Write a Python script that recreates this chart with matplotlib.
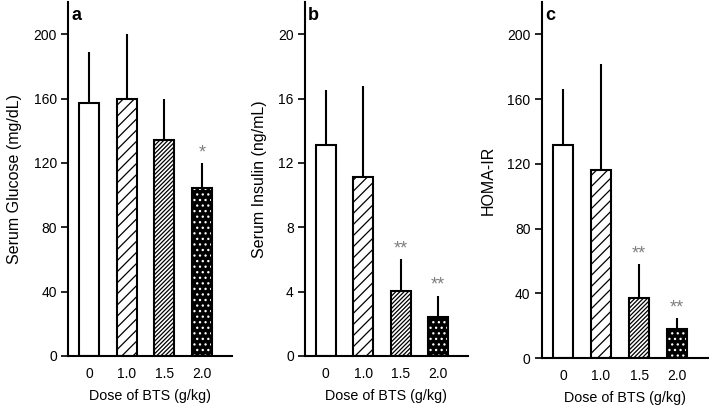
import numpy as np
import matplotlib
matplotlib.use('Agg')
import matplotlib.pyplot as plt

plt.rcParams['font.family'] = ['Liberation Sans', 'DejaVu Sans']
plt.rcParams['hatch.linewidth'] = 0.9

doses = ['0', '1.0', '1.5', '2.0']

glucose = [157, 160, 134, 104.5]
glucose_sd = [32, 40, 26, 15.5]
glucose_sig = ['', '', '', '*']

insulin = [13.1, 11.1, 4.07, 2.4]
insulin_sd = [3.45, 5.7, 1.95, 1.35]
insulin_sig = ['', '', '**', '**']

homa = [131.5, 116.5, 37, 18]
homa_sd = [35, 65, 21, 6.5]
homa_sig = ['', '', '**', '**']

hatches = ['', '///', '////////', '...']

fig = plt.figure(figsize=(7.09, 4.05), dpi=100)

panels = [
    ('a', glucose, glucose_sd, glucose_sig, 'Serum Glucose (mg/dL)', 220, [0, 40, 80, 120, 160, 200],
     [0.096, 0.121, 0.231, 0.874]),
    ('b', insulin, insulin_sd, insulin_sig, 'Serum Insulin (ng/mL)', 22, [0, 4, 8, 12, 16, 20],
     [0.430, 0.121, 0.230, 0.874]),
    ('c', homa, homa_sd, homa_sig, 'HOMA-IR', 220, [0, 40, 80, 120, 160, 200],
     [0.764, 0.116, 0.234, 0.879]),
]

x = np.arange(len(doses))
w = 0.54

for letter, vals, sds, sig, ylab, ytop, yt, pos in panels:
    ax = fig.add_axes(pos)
    for i in range(len(vals)):
        if i == 3:
            # black bar with white dots
            ax.bar(x[i], vals[i], w, color='black', edgecolor='white', hatch=hatches[i], lw=0, zorder=2)
            ax.bar(x[i], vals[i], w, fill=False, edgecolor='black', lw=1.5, zorder=3)
        else:
            ax.bar(x[i], vals[i], w, color='white', edgecolor='black', hatch=hatches[i], lw=1.5, zorder=2)
    ax.errorbar(x, vals, yerr=[np.zeros(len(vals)), sds], fmt='none', ecolor='black',
                elinewidth=1.5, capsize=0, zorder=1)
    for i, s in enumerate(sig):
        if s:
            ax.text(x[i], vals[i] + sds[i] + ytop * 0.005, s, ha='center', va='bottom',
                    fontsize=13, color='#808080')
    ax.set_xlim(-0.56, 3.8)
    ax.set_ylim(0, ytop)
    ax.set_yticks(yt)
    ax.set_xticks(x)
    ax.set_xticklabels(doses)
    ax.tick_params(axis='x', length=0, pad=8, labelsize=10)
    ax.tick_params(axis='y', length=5, width=1.2, direction='out', labelsize=10, pad=3)
    ax.spines['top'].set_visible(False)
    ax.spines['right'].set_visible(False)
    ax.spines['left'].set_linewidth(1.5)
    ax.spines['bottom'].set_linewidth(1.5)
    ax.set_ylabel(ylab, fontsize=11.5, labelpad=8)
    ax.set_xlabel('Dose of BTS (g/kg)', fontsize=10.3, labelpad=6)
    ax.text(0.02, 0.985, letter, transform=ax.transAxes, fontsize=13, fontweight='bold',
            ha='left', va='top')

fig.savefig('out.png', dpi=100)
